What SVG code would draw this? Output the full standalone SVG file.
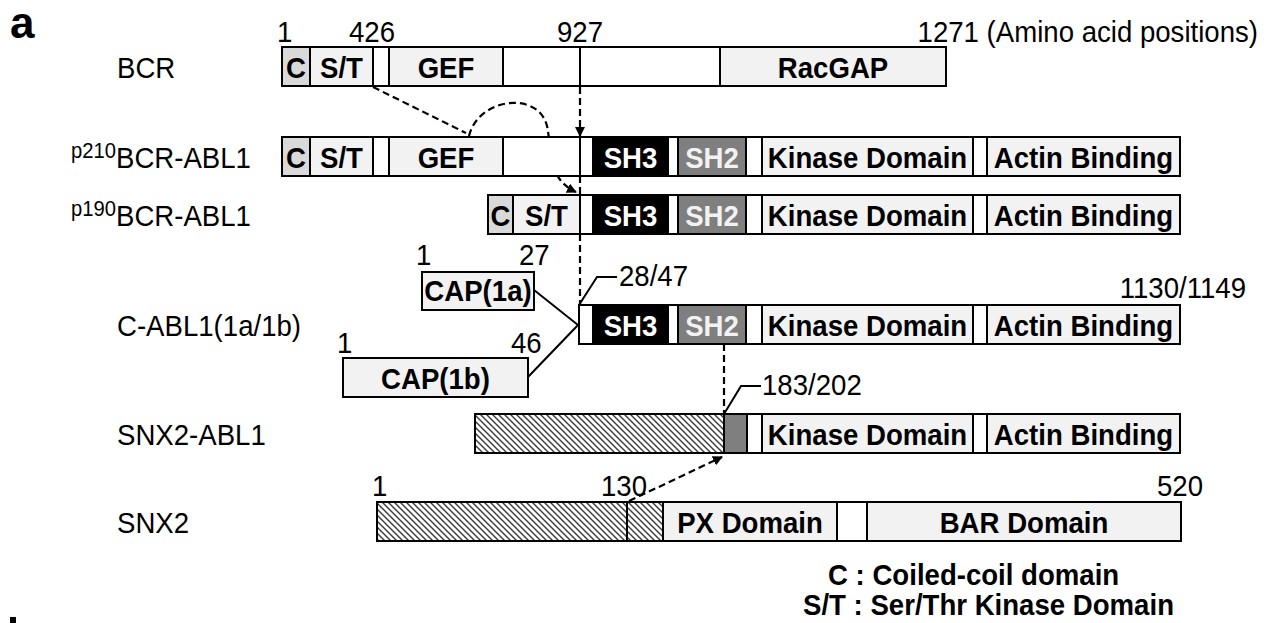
<svg xmlns="http://www.w3.org/2000/svg" width="1276" height="623" viewBox="0 0 1276 623">
<style>
.t{font-family:"Liberation Sans",Arial,Helvetica,sans-serif;font-size:30px;fill:#000}
.b{font-weight:bold}
.m{text-anchor:middle}
.e{text-anchor:end}
.sup{font-size:22px}
.wt{fill:#fff}
.lt2{fill:#f2f2f2}
.lt,.wh,.cg,.bk,.g2,.ht{stroke:#000;stroke-width:2}
.lt{fill:#f2f2f2}
.wh{fill:#fff}
.cg{fill:#d9d9d9}
.bk{fill:#000}
.g2{fill:#7f7f7f}
.ht{fill:url(#hatch)}
.dash{fill:none;stroke:#000;stroke-width:2.2;stroke-dasharray:7 4}
.ln{fill:none;stroke:#000;stroke-width:2}
</style>
<defs>
<pattern id="hatch" patternUnits="userSpaceOnUse" width="6" height="6">
<rect x="0" y="0" width="6" height="6" fill="#fff"/>
<path d="M0,0 L6,6 M-1,5 L1,7 M5,-1 L7,1" stroke="#3a3a3a" stroke-width="1.4"/>
</pattern>
<marker id="arr" markerWidth="10" markerHeight="10" refX="9" refY="5" orient="auto" markerUnits="userSpaceOnUse">
<path d="M0,0 L10,5 L0,10 Z" fill="#000"/>
</marker>
</defs>
<rect width="1276" height="623" fill="#fff"/>

<text class="t b" style="font-size:44px" x="10" y="38">a</text>
<rect x="10" y="617" width="6" height="6" fill="#000"/>

<g id="numbers">
<text class="t" transform="translate(277 42) scale(0.92 1)">1</text>
<text class="t" transform="translate(349 42) scale(0.92 1)">426</text>
<text class="t" transform="translate(557 42) scale(0.92 1)">927</text>
<text class="t e" transform="translate(1258 42) scale(0.92 1)">1271 (Amino acid positions)</text>
<text class="t" transform="translate(416 265) scale(0.92 1)">1</text>
<text class="t" transform="translate(519 265) scale(0.92 1)">27</text>
<text class="t" transform="translate(619 286) scale(0.92 1)">28/47</text>
<text class="t e" transform="translate(1246 298) scale(0.92 1)">1130/1149</text>
<text class="t" transform="translate(337 353) scale(0.92 1)">1</text>
<text class="t" transform="translate(511 353) scale(0.92 1)">46</text>
<text class="t" transform="translate(762 395) scale(0.92 1)">183/202</text>
<text class="t" transform="translate(372 496) scale(0.92 1)">1</text>
<text class="t" transform="translate(601 496) scale(0.92 1)">130</text>
<text class="t" transform="translate(1157 496) scale(0.92 1)">520</text>
</g>

<g id="labels">
<text class="t" transform="translate(117 78) scale(0.92 1)">BCR</text>
<text class="t sup e" transform="translate(116 158) scale(0.92 1)">p210</text>
<text class="t" transform="translate(116 168) scale(0.92 1)">BCR-ABL1</text>
<text class="t sup e" transform="translate(116 216) scale(0.92 1)">p190</text>
<text class="t" transform="translate(116 226) scale(0.92 1)">BCR-ABL1</text>
<text class="t" transform="translate(117 336) scale(0.92 1)">C-ABL1(1a/1b)</text>
<text class="t" transform="translate(117 445) scale(0.92 1)">SNX2-ABL1</text>
<text class="t" transform="translate(117 533) scale(0.92 1)">SNX2</text>
</g>

<g id="connectors">
<path class="dash" d="M580,87 L580,136" marker-end="url(#arr)"/>
<path class="dash" d="M580,176 L580,195"/>
<path class="dash" d="M580,234 L580,305"/>
<path class="dash" d="M373,87 L466,133"/>
<path class="dash" d="M469,136 C478,98 538,90 547,126 C552,148 546,178 576,192" marker-end="url(#arr)"/>
<path class="dash" d="M724,344 L724,414"/>
<path class="dash" d="M629,501 L722,457" marker-end="url(#arr)"/>
<path class="ln" d="M534,290 L578,325 L528,377"/>
<path class="ln" d="M579,305 L597,277 L617,277"/>
<path class="ln" d="M724,414 L741,386 L761,386"/>
</g>

<g id="BCR">
<rect class="cg" x="282" y="47" width="28" height="39"/>
<rect class="lt" x="310" y="47" width="63" height="39"/>
<rect class="wh" x="373" y="47" width="16" height="39"/>
<rect class="lt" x="389" y="47" width="114" height="39"/>
<rect class="wh" x="503" y="47" width="77" height="39"/>
<rect class="wh" x="580" y="47" width="140" height="39"/>
<rect class="lt" x="720" y="47" width="226" height="39"/>
<text class="t b m" transform="translate(296 78) scale(0.92 1)">C</text>
<text class="t b m" transform="translate(341.5 78) scale(0.92 1)">S/T</text>
<text class="t b m" transform="translate(446 78) scale(0.92 1)">GEF</text>
<text class="t b m" transform="translate(833 78) scale(0.92 1)">RacGAP</text>
</g>

<g id="p210">
<rect class="cg" x="282" y="137" width="28" height="39"/>
<rect class="lt" x="310" y="137" width="63" height="39"/>
<rect class="wh" x="373" y="137" width="16" height="39"/>
<rect class="lt" x="389" y="137" width="114" height="39"/>
<rect class="wh" x="503" y="137" width="77" height="39"/>
<rect class="wh" x="580" y="137" width="13" height="39"/>
<rect class="bk" x="593" y="137" width="75" height="39"/>
<rect class="wh" x="668" y="137" width="10" height="39"/>
<rect class="g2" x="678" y="137" width="68" height="39"/>
<rect class="wh" x="746" y="137" width="16" height="39"/>
<rect class="lt" x="762" y="137" width="211" height="39"/>
<rect class="wh" x="973" y="137" width="14" height="39"/>
<rect class="lt" x="987" y="137" width="193" height="39"/>
<text class="t b m" transform="translate(296 168) scale(0.92 1)">C</text>
<text class="t b m" transform="translate(341.5 168) scale(0.92 1)">S/T</text>
<text class="t b m" transform="translate(446 168) scale(0.92 1)">GEF</text>
<text class="t b m wt" transform="translate(630.5 168) scale(0.92 1)">SH3</text>
<text class="t b m lt2" transform="translate(712 168) scale(0.92 1)">SH2</text>
<text class="t b m" transform="translate(867.5 168) scale(0.92 1)">Kinase Domain</text>
<text class="t b m" transform="translate(1083.5 168) scale(0.92 1)">Actin Binding</text>
</g>

<g id="p190">
<rect class="cg" x="488" y="195" width="25" height="39"/>
<rect class="lt" x="513" y="195" width="67" height="39"/>
<rect class="wh" x="580" y="195" width="13" height="39"/>
<rect class="bk" x="593" y="195" width="75" height="39"/>
<rect class="wh" x="668" y="195" width="10" height="39"/>
<rect class="g2" x="678" y="195" width="68" height="39"/>
<rect class="wh" x="746" y="195" width="16" height="39"/>
<rect class="lt" x="762" y="195" width="211" height="39"/>
<rect class="wh" x="973" y="195" width="14" height="39"/>
<rect class="lt" x="987" y="195" width="193" height="39"/>
<text class="t b m" transform="translate(500.5 226) scale(0.92 1)">C</text>
<text class="t b m" transform="translate(546.5 226) scale(0.92 1)">S/T</text>
<text class="t b m wt" transform="translate(630.5 226) scale(0.92 1)">SH3</text>
<text class="t b m lt2" transform="translate(712 226) scale(0.92 1)">SH2</text>
<text class="t b m" transform="translate(867.5 226) scale(0.92 1)">Kinase Domain</text>
<text class="t b m" transform="translate(1083.5 226) scale(0.92 1)">Actin Binding</text>
</g>

<g id="CAP1a">
<rect class="lt" x="422" y="272" width="112" height="38"/>
<text class="t b m" transform="translate(478 301) scale(0.92 1)">CAP(1a)</text>
</g>
<g id="CAP1b">
<rect class="lt" x="343" y="358" width="185" height="39"/>
<text class="t b m" transform="translate(435.5 389) scale(0.92 1)">CAP(1b)</text>
</g>

<g id="CABL1">
<rect class="wh" x="579" y="305" width="14" height="39"/>
<rect class="bk" x="593" y="305" width="75" height="39"/>
<rect class="wh" x="668" y="305" width="10" height="39"/>
<rect class="g2" x="678" y="305" width="68" height="39"/>
<rect class="wh" x="746" y="305" width="16" height="39"/>
<rect class="lt" x="762" y="305" width="211" height="39"/>
<rect class="wh" x="973" y="305" width="14" height="39"/>
<rect class="lt" x="987" y="305" width="193" height="39"/>
<text class="t b m wt" transform="translate(630.5 336) scale(0.92 1)">SH3</text>
<text class="t b m lt2" transform="translate(712 336) scale(0.92 1)">SH2</text>
<text class="t b m" transform="translate(867.5 336) scale(0.92 1)">Kinase Domain</text>
<text class="t b m" transform="translate(1083.5 336) scale(0.92 1)">Actin Binding</text>
</g>

<g id="SNX2ABL1">
<rect class="ht" x="475" y="414" width="249" height="39"/>
<rect class="g2" x="724" y="414" width="23" height="39"/>
<rect class="wh" x="747" y="414" width="15" height="39"/>
<rect class="lt" x="762" y="414" width="211" height="39"/>
<rect class="wh" x="973" y="414" width="14" height="39"/>
<rect class="lt" x="987" y="414" width="193" height="39"/>
<text class="t b m" transform="translate(867.5 445) scale(0.92 1)">Kinase Domain</text>
<text class="t b m" transform="translate(1083.5 445) scale(0.92 1)">Actin Binding</text>
</g>

<g id="SNX2">
<rect class="ht" x="377" y="502" width="250" height="39"/>
<rect class="ht" x="627" y="502" width="36" height="39"/>
<rect class="lt" x="663" y="502" width="174" height="39"/>
<rect class="wh" x="837" y="502" width="30" height="39"/>
<rect class="lt" x="867" y="502" width="314" height="39"/>
<text class="t b m" transform="translate(750 533) scale(0.92 1)">PX Domain</text>
<text class="t b m" transform="translate(1024 533) scale(0.92 1)">BAR Domain</text>
</g>

<g id="legend">
<text class="t b" transform="translate(828 585) scale(0.92 1)">C : Coiled-coil domain</text>
<text class="t b" transform="translate(803 615) scale(0.92 1)">S/T : Ser/Thr Kinase Domain</text>
</g>
</svg>
